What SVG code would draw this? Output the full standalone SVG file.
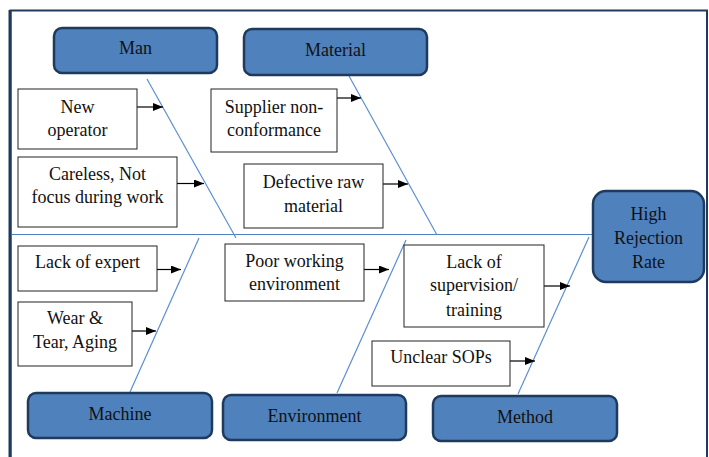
<svg xmlns="http://www.w3.org/2000/svg" width="709" height="457" viewBox="0 0 709 457">
<defs>
<marker id="ah" markerUnits="userSpaceOnUse" markerWidth="10" markerHeight="8" refX="10" refY="4" orient="auto">
<path d="M0,0 L10,4 L0,8 z" fill="#000"/>
</marker>
<style>
text{font-family:'Liberation Serif','DejaVu Serif','Times New Roman',serif;font-size:18px;fill:#111;text-anchor:middle}
.cat{fill:#4f81bd;stroke:#1f3a5c;stroke-width:2.5}
.cause{fill:#fff;stroke:#222;stroke-width:1}
.bone{stroke:#5b8fd2;stroke-width:1.2;fill:none}
.arr{stroke:#000;stroke-width:1.2;marker-end:url(#ah)}
</style>
</defs>
<rect x="0" y="0" width="709" height="457" fill="#fff"/>
<rect x="10.5" y="10.5" width="696.5" height="460" fill="none" stroke="#1f3a5c" stroke-width="2"/>
<line x1="10" y1="10" x2="10" y2="457" stroke="#1f3a5c" stroke-width="3"/>

<g id="connectors">
<line class="bone" x1="12" y1="234.5" x2="593" y2="234.5" style="stroke:#4f7fbf"/>
<line class="bone" x1="147" y1="79" x2="236" y2="238"/>
<line class="bone" x1="349" y1="76" x2="437" y2="235"/>
<line class="bone" x1="199" y1="238" x2="130" y2="392"/>
<line class="bone" x1="406" y1="240" x2="337" y2="393"/>
<line class="bone" x1="589" y1="237" x2="518" y2="394"/>
<line class="arr" x1="137" y1="107" x2="163" y2="107"/>
<line class="arr" x1="177" y1="183.5" x2="204" y2="183.5"/>
<line class="arr" x1="337" y1="98" x2="361" y2="98"/>
<line class="arr" x1="383" y1="184" x2="408" y2="184"/>
<line class="arr" x1="157" y1="269.5" x2="181" y2="269.5"/>
<line class="arr" x1="132" y1="331" x2="156" y2="331"/>
<line class="arr" x1="364" y1="269.5" x2="389" y2="269.5"/>
<line class="arr" x1="544" y1="286" x2="570" y2="286"/>
<line class="arr" x1="510" y1="361" x2="535" y2="361"/>
</g>

<g font-family="Liberation Serif, DejaVu Serif, serif">
<g id="man"><rect class="cat" x="54" y="28" width="163" height="45" rx="8"/><text x="135.5" y="54">Man</text></g>
<g id="material"><rect class="cat" x="244" y="29" width="183" height="46" rx="8"/><text x="335.5" y="56">Material</text></g>
<g id="effect"><rect class="cat" x="593" y="191" width="111" height="91" rx="13"/><text x="648.5" y="220">High</text><text x="648.5" y="244">Rejection</text><text x="648.5" y="268">Rate</text></g>
<g id="machine"><rect class="cat" x="28" y="393" width="184" height="45" rx="8"/><text x="120" y="420">Machine</text></g>
<g id="environment"><rect class="cat" x="223" y="395" width="183" height="45" rx="8"/><text x="314.5" y="422">Environment</text></g>
<g id="method"><rect class="cat" x="433" y="396" width="184" height="45" rx="8"/><text x="525" y="422.5">Method</text></g>

<g id="new-operator"><rect class="cause" x="18" y="89" width="119" height="60"/><text x="77.5" y="113">New</text><text x="77.5" y="136">operator</text></g>
<g id="careless"><rect class="cause" x="18" y="157" width="159" height="70"/><text x="97.5" y="180">Careless, Not</text><text x="97.5" y="203">focus during work</text></g>
<g id="supplier"><rect class="cause" x="211" y="89" width="126" height="63"/><text x="274" y="113">Supplier non-</text><text x="274" y="136">conformance</text></g>
<g id="defective"><rect class="cause" x="244" y="164" width="139" height="64"/><text x="313.5" y="188">Defective raw</text><text x="313.5" y="212">material</text></g>
<g id="lack-expert"><rect class="cause" x="18" y="246" width="139" height="45"/><text x="87.5" y="268">Lack of expert</text></g>
<g id="wear"><rect class="cause" x="18" y="302" width="114" height="64"/><text x="75" y="324">Wear &amp;</text><text x="75" y="347.5">Tear, Aging</text></g>
<g id="poor-env"><rect class="cause" x="225" y="244" width="139" height="57"/><text x="294.5" y="266.5">Poor working</text><text x="294.5" y="290">environment</text></g>
<g id="supervision"><rect class="cause" x="404" y="245" width="140" height="82"/><text x="474" y="267.5">Lack of</text><text x="474" y="291">supervision/</text><text x="474" y="315.5">training</text></g>
<g id="sops"><rect class="cause" x="372" y="341" width="138" height="45"/><text x="441" y="362.5">Unclear SOPs</text></g>
</g>
</svg>
